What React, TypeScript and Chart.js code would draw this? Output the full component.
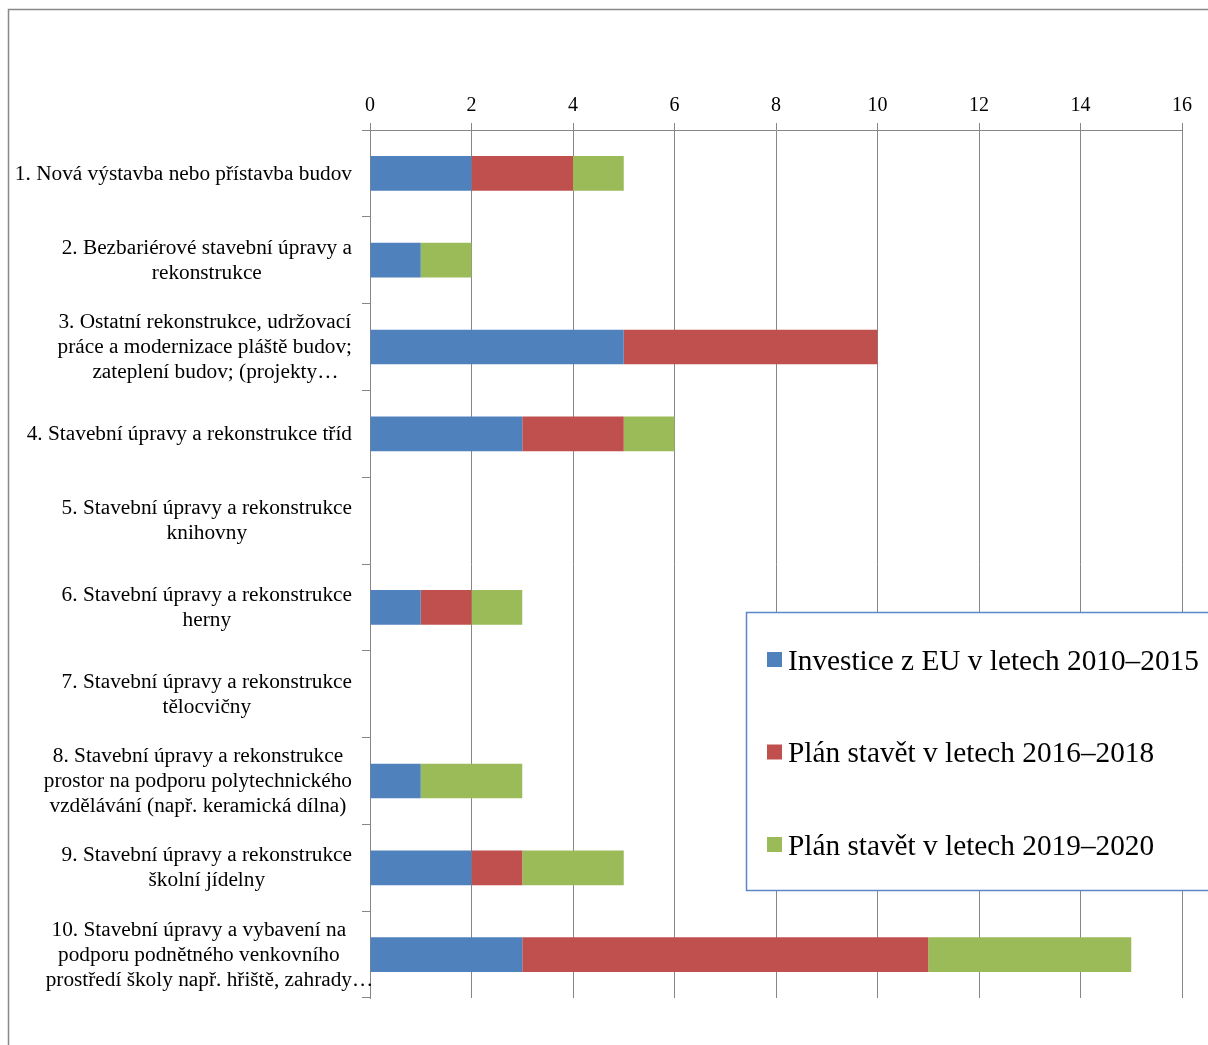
import React, { useEffect, useRef } from "react";
import { Chart, registerables } from "chart.js";

Chart.register(...registerables);

const categories: string[][] = [
  ["1. Nová výstavba nebo přístavba budov"],
  ["2. Bezbariérové stavební úpravy a", "rekonstrukce"],
  ["3. Ostatní rekonstrukce, udržovací", "práce a modernizace pláště budov;", "zateplení budov; (projekty…"],
  ["4. Stavební úpravy a rekonstrukce tříd"],
  ["5. Stavební úpravy a rekonstrukce", "knihovny"],
  ["6. Stavební úpravy a rekonstrukce", "herny"],
  ["7. Stavební úpravy a rekonstrukce", "tělocvičny"],
  ["8. Stavební úpravy a rekonstrukce", "prostor na podporu polytechnického", "vzdělávání (např. keramická dílna)"],
  ["9. Stavební úpravy a rekonstrukce", "školní jídelny"],
  ["10. Stavební úpravy a vybavení na", "podporu podnětného venkovního", "prostředí školy např. hřiště, zahrady…"],
];

const seriesNames = [
  "Investice z EU v letech 2010–2015",
  "Plán stavět v letech 2016–2018",
  "Plán stavět v letech 2019–2020",
];
const seriesColors = ["#4F81BD", "#C0504D", "#9BBB59"];

const investiceEU = [2, 1, 5, 3, 0, 1, 0, 1, 2, 3];
const plan2016_2018 = [2, 0, 5, 2, 0, 1, 0, 0, 1, 8];
const plan2019_2020 = [1, 1, 0, 1, 0, 1, 0, 2, 2, 4];

const xMin = 0;
const xMax = 16;
const xStep = 2;

const GRID = "#878787";
const SERIF = '"Liberation Serif", "Times New Roman", serif';

const framePlugin = {
  id: "frame",
  beforeDraw(chart: any) {
    const ctx = chart.ctx;
    ctx.save();
    ctx.fillStyle = "#ffffff";
    ctx.fillRect(0, 0, chart.width, chart.height);
    ctx.strokeStyle = "#888888";
    ctx.lineWidth = 1.5;
    ctx.strokeRect(8.5, 9.5, chart.width + 50, chart.height + 50);
    ctx.restore();
  },
};

const yLabelsPlugin = {
  id: "yLabels",
  afterDraw(chart: any) {
    const ctx = chart.ctx;
    const ys = chart.scales.y;
    const labels = chart.data.labels as string[][];
    const lineH = 25;
    ctx.save();
    ctx.font = `21.3px ${SERIF}`;
    ctx.fillStyle = "#000000";
    ctx.textAlign = "left";
    ctx.textBaseline = "middle";
    const right = ys.right - 18;
    const core = (l: string) => (l.endsWith("…") ? l.slice(0, -1) : l);
    labels.forEach((lines, i) => {
      const yc = ys.getPixelForValue(i);
      let w = 0;
      lines.forEach((l) => (w = Math.max(w, ctx.measureText(core(l)).width)));
      const cx = right - w / 2;
      const y0 = yc - ((lines.length - 1) * lineH) / 2;
      lines.forEach((l, k) => {
        const lw = ctx.measureText(core(l)).width;
        ctx.fillText(l, cx - lw / 2, y0 + k * lineH + 0.5);
      });
    });
    ctx.restore();
  },
};

const legendPlugin = {
  id: "boxLegend",
  afterDraw(chart: any) {
    const ctx = chart.ctx;
    const left = 746.5;
    const top = 612.5;
    const h = 278;
    ctx.save();
    ctx.fillStyle = "#ffffff";
    ctx.fillRect(left, top, chart.width - left + 20, h);
    ctx.strokeStyle = "#5B87C8";
    ctx.lineWidth = 1.5;
    ctx.strokeRect(left, top, chart.width - left + 20, h);
    ctx.font = `29.3px ${SERIF}`;
    ctx.textAlign = "left";
    ctx.textBaseline = "middle";
    chart.data.datasets.forEach((ds: any, i: number) => {
      const cy = 659.5 + i * 92.5;
      ctx.fillStyle = ds.backgroundColor;
      ctx.fillRect(767, cy - 7.5, 15, 15);
      ctx.fillStyle = "#000000";
      ctx.fillText(ds.label, 788, cy + 2.5);
    });
    ctx.restore();
  },
};

export default function App() {
  const ref = useRef<HTMLCanvasElement | null>(null);

  useEffect(() => {
    if (!ref.current) return;
    const seriesData = [investiceEU, plan2016_2018, plan2019_2020];
    const chart = new Chart(ref.current, {
      type: "bar",
      data: {
        labels: categories as any,
        datasets: seriesNames.map((name, i) => ({
          label: name,
          data: seriesData[i],
          backgroundColor: seriesColors[i],
          borderWidth: 0,
          barPercentage: 0.4,
          categoryPercentage: 1,
        })),
      },
      options: {
        indexAxis: "y",
        responsive: false,
        animation: false,
        devicePixelRatio: 1,
        layout: { padding: { left: 0, top: 0, right: 26, bottom: 47 } },
        plugins: {
          legend: { display: false },
          tooltip: { enabled: false },
          title: { display: false },
        },
        scales: {
          x: {
            position: "top",
            stacked: true,
            min: xMin,
            max: xMax,
            ticks: {
              stepSize: xStep,
              color: "#000000",
              font: { family: SERIF, size: 20 },
              padding: 5,
            },
            grid: { color: GRID, lineWidth: 1, tickLength: 7, drawTicks: true },
            border: { display: true, color: GRID, width: 1 },
            afterFit: (s: any) => {
              s.height = 130;
            },
          },
          y: {
            stacked: true,
            ticks: { display: false },
            grid: {
              display: true,
              drawOnChartArea: false,
              drawTicks: true,
              tickLength: 8,
              color: GRID,
              offset: true,
            },
            border: { display: true, color: GRID, width: 1 },
            afterFit: (s: any) => {
              s.width = 370;
            },
          },
        },
      },
      plugins: [framePlugin, yLabelsPlugin, legendPlugin],
    });
    return () => chart.destroy();
  }, []);

  return (
    <div style={{ position: "fixed", left: 0, top: 0, width: 1208, height: 1045, overflow: "hidden", background: "#fff" }}>
      <canvas ref={ref} width={1208} height={1045} style={{ width: 1208, height: 1045, display: "block" }} />
    </div>
  );
}
